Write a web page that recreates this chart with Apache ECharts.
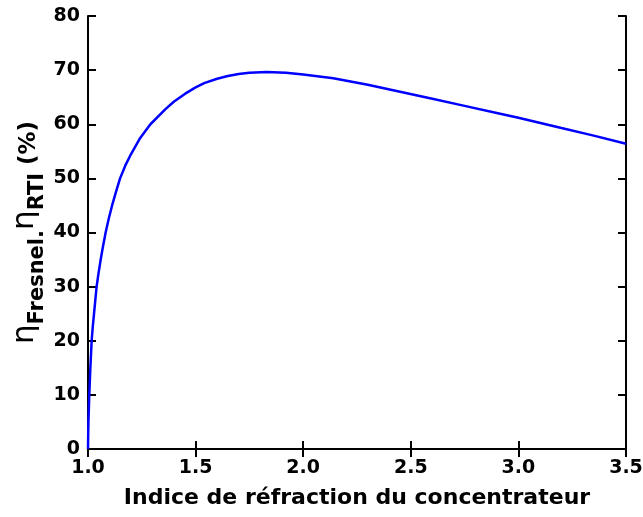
<!DOCTYPE html>
<html lang="fr">
<head>
    <meta charset="UTF-8">
    <title>Indice de réfraction</title>
    <script src="https://cdn.jsdelivr.net/npm/echarts@6.0.0/dist/echarts.min.js"></script>
    <style>
        body { margin: 0; background: #fff; }
        #chart { width: 643px; height: 517px; }
    </style>
</head>
<body>
    <div id="chart"></div>
    <script>
        // valeurs
        var indices = [1.000, 1.001, 1.002, 1.004, 1.006, 1.011, 1.017, 1.022, 1.028, 1.034, 1.040, 1.049, 1.059, 1.070, 1.082, 1.096, 1.112, 1.130, 1.149, 1.175, 1.20, 1.24, 1.29, 1.36, 1.40, 1.45, 1.50, 1.54, 1.60, 1.65, 1.70, 1.75, 1.83, 1.92, 2.00, 2.14, 2.30, 2.45, 2.60, 2.75, 2.91, 3.00, 3.20, 3.35, 3.50];
        var rendement = [0, 3, 5, 7.5, 10, 15, 20, 22.5, 25, 27.5, 30, 32.5, 35, 37.5, 40, 42.5, 45, 47.5, 50, 52.5, 54.5, 57.3, 60, 62.8, 64.2, 65.6, 66.8, 67.6, 68.4, 68.9, 69.3, 69.5, 69.65, 69.5, 69.2, 68.5, 67.3, 66.0, 64.7, 63.4, 62.0, 61.2, 59.3, 57.9, 56.4];
        var xTicks = [1.0, 3.5, 0.5];
        var yTicks = [0, 80, 10];

        var axisLine = { lineStyle: { color: '#000', width: 2 } };
        var tickIn = { inside: true, length: 8, lineStyle: { color: '#000', width: 2 } };
        var labelStyle = { color: '#000', fontFamily: 'DejaVu Sans', fontWeight: 'bold', fontSize: 19 };

        var chart = echarts.init(document.getElementById('chart'));
        chart.setOption({
            animation: false,
            grid: { left: 88, right: 17, top: 16, bottom: 68, outerBoundsMode: 'none' },
            xAxis: [{
                type: 'value', min: xTicks[0], max: xTicks[1], interval: xTicks[2],
                position: 'bottom',
                axisLine: axisLine, axisTick: tickIn, splitLine: { show: false },
                axisLabel: Object.assign({ margin: 10, formatter: function (v) { return v.toFixed(1); } }, labelStyle),
                name: 'Indice de réfraction du concentrateur',
                nameLocation: 'middle', nameGap: 38, nameMoveOverlap: false,
                nameTextStyle: { color: '#000', fontFamily: 'DejaVu Sans', fontWeight: 'bold', fontSize: 22 }
            }, {
                type: 'value', min: xTicks[0], max: xTicks[1], interval: xTicks[2],
                position: 'top',
                axisLine: axisLine, axisTick: tickIn, axisLabel: { show: false }, splitLine: { show: false }
            }],
            yAxis: [{
                type: 'value', min: yTicks[0], max: yTicks[1], interval: yTicks[2],
                position: 'left',
                axisLine: axisLine, axisTick: tickIn, splitLine: { show: false },
                axisLabel: Object.assign({ margin: 8 }, labelStyle),
                name: '{eta|η}{sub|Fresnel.}{eta|η}{sub|RTI}{pc| (%)}',
                nameLocation: 'middle', nameGap: 40, nameRotate: 90, nameMoveOverlap: false,
                nameTextStyle: {
                    color: '#000',
                    rich: {
                        eta: { fontFamily: 'DejaVu Sans', fontSize: 31, color: '#000', verticalAlign: 'top' },
                        sub: { fontFamily: 'DejaVu Sans', fontWeight: 'bold', fontSize: 21, color: '#000', verticalAlign: 'bottom', padding: [18, 0, 0, 0] },
                        pc: { fontFamily: 'DejaVu Sans', fontWeight: 'bold', fontSize: 23, color: '#000', verticalAlign: 'top', padding: [9, 0, 0, 0] }
                    }
                }
            }, {
                type: 'value', min: yTicks[0], max: yTicks[1], interval: yTicks[2],
                position: 'right',
                axisLine: axisLine, axisTick: tickIn, axisLabel: { show: false }, splitLine: { show: false }
            }],
            series: [{
                type: 'line',
                xAxisIndex: 0, yAxisIndex: 0,
                data: indices.map(function (n, i) { return [n, rendement[i]]; }),
                smooth: false,
                showSymbol: false,
                lineStyle: { color: '#0000ff', width: 2.5 }
            }]
        });
    </script>
</body>
</html>
